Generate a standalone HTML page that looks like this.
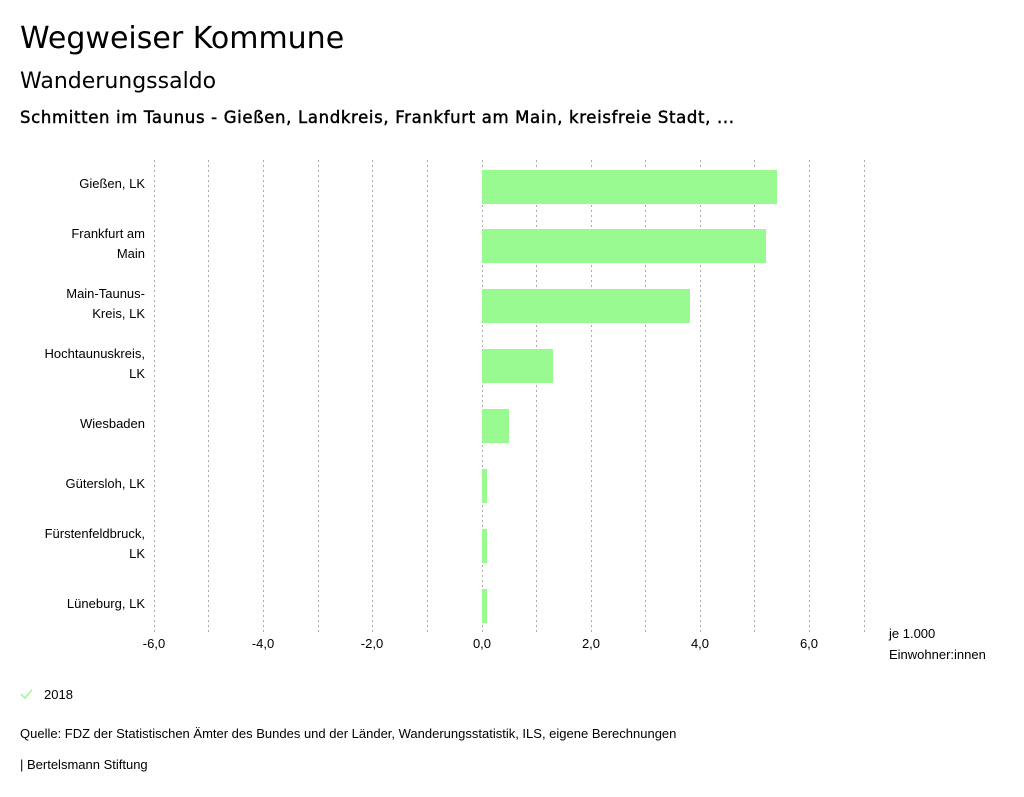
<!DOCTYPE html>
<html><head><meta charset="utf-8"><style>
body{margin:0;background:#fff;width:1024px;height:797px;overflow:hidden}
svg{display:block}
text{font-family:"Liberation Sans","DejaVu Sans",sans-serif;fill:#000}
.s{font-size:13px}
</style></head><body>
<svg width="1024" height="797" viewBox="0 0 1024 797">
<text x="20" y="48" style="font-family:'DejaVu Sans',sans-serif;font-size:30px">Wegweiser Kommune</text>
<text x="20" y="88" style="font-family:'DejaVu Sans',sans-serif;font-size:22px">Wanderungssaldo</text>
<text x="20" y="123" style="font-family:'DejaVu Sans',sans-serif;font-size:16.5px;stroke:#000;stroke-width:0.45" textLength="714">Schmitten im Taunus - Gießen, Landkreis, Frankfurt am Main, kreisfreie Stadt, ...</text>
<g stroke="#aaa" stroke-width="1" stroke-dasharray="2,3">
<line x1="154.5" y1="160" x2="154.5" y2="632"/><line x1="208.5" y1="160" x2="208.5" y2="632"/><line x1="263.5" y1="160" x2="263.5" y2="632"/><line x1="318.5" y1="160" x2="318.5" y2="632"/><line x1="372.5" y1="160" x2="372.5" y2="632"/><line x1="427.5" y1="160" x2="427.5" y2="632"/><line x1="482.5" y1="160" x2="482.5" y2="632"/><line x1="536.5" y1="160" x2="536.5" y2="632"/><line x1="591.5" y1="160" x2="591.5" y2="632"/><line x1="645.5" y1="160" x2="645.5" y2="632"/><line x1="700.5" y1="160" x2="700.5" y2="632"/><line x1="754.5" y1="160" x2="754.5" y2="632"/><line x1="809.5" y1="160" x2="809.5" y2="632"/><line x1="864.5" y1="160" x2="864.5" y2="632"/>
</g>
<g fill="#9afa92">
<rect x="482" y="170" width="295" height="34"/>
<rect x="482" y="229" width="284" height="34"/>
<rect x="482" y="289" width="208" height="34"/>
<rect x="482" y="349" width="71" height="34"/>
<rect x="482" y="409" width="27" height="34"/>
<rect x="482" y="469" width="5" height="34"/>
<rect x="482" y="529" width="5" height="34"/>
<rect x="482" y="589" width="5" height="34"/>
</g>
<g class="s" text-anchor="end">
<text x="145" y="188" class="s">Gießen, LK</text>
<text x="145" y="238" class="s">Frankfurt am</text><text x="145" y="258" class="s">Main</text>
<text x="145" y="298" class="s">Main-Taunus-</text><text x="145" y="318" class="s">Kreis, LK</text>
<text x="145" y="358" class="s">Hochtaunuskreis,</text><text x="145" y="378" class="s">LK</text>
<text x="145" y="428" class="s">Wiesbaden</text>
<text x="145" y="488" class="s">Gütersloh, LK</text>
<text x="145" y="538" class="s">Fürstenfeldbruck,</text><text x="145" y="558" class="s">LK</text>
<text x="145" y="608" class="s">Lüneburg, LK</text>
</g>
<g text-anchor="middle">
<text x="154" y="648" class="s">-6,0</text><text x="263" y="648" class="s">-4,0</text><text x="372" y="648" class="s">-2,0</text><text x="482" y="648" class="s">0,0</text><text x="591" y="648" class="s">2,0</text><text x="700" y="648" class="s">4,0</text><text x="809" y="648" class="s">6,0</text>
</g>
<text x="889" y="638" class="s">je 1.000</text>
<text x="889" y="659" class="s">Einwohner:innen</text>
<polyline points="21,694 25,698 32,690" fill="none" stroke="#9afa92" stroke-width="1.5"/>
<text x="44" y="699" class="s">2018</text>
<text x="20" y="738" class="s">Quelle: FDZ der Statistischen Ämter des Bundes und der Länder, Wanderungsstatistik, ILS, eigene Berechnungen</text>
<text x="20" y="769" class="s">| Bertelsmann Stiftung</text>
</svg>
</body></html>
